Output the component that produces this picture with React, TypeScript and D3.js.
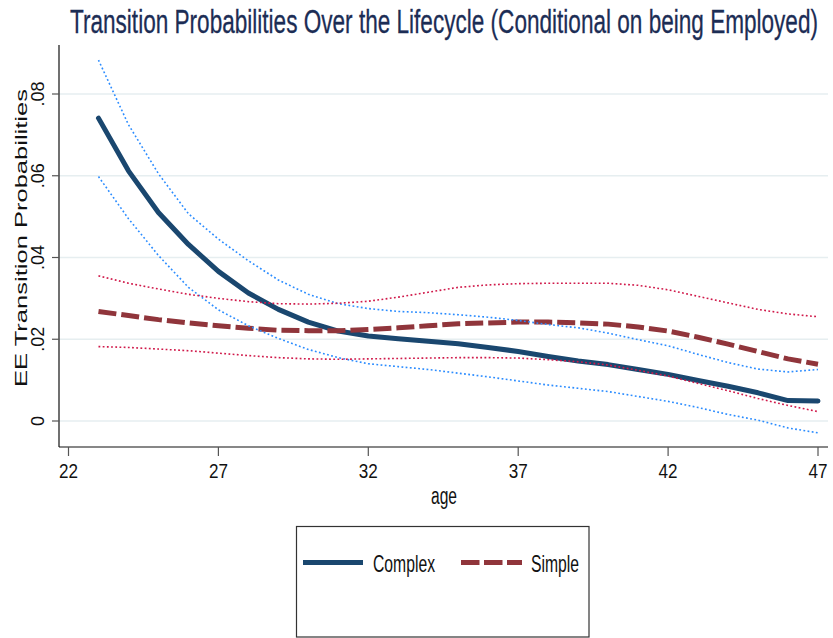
import React from "react";
import * as d3 from "d3";

// Ages on the horizontal axis
const ages = [23, 24, 25, 26, 27, 28, 29, 30, 31, 32, 33, 34, 35, 36, 37, 38, 39, 40, 41, 42, 43, 44, 45, 46, 47];

// Complex model: point estimate and confidence band
const complexEst = [0.0741, 0.0612, 0.051, 0.0432, 0.0366, 0.0313, 0.0273, 0.0242, 0.022, 0.0208, 0.0201, 0.0195, 0.0189, 0.018, 0.017, 0.0158, 0.0147, 0.0138, 0.0126, 0.0114, 0.0099, 0.0085, 0.0069, 0.005, 0.0049];
const complexHi = [0.0883, 0.0725, 0.0605, 0.0507, 0.0445, 0.0392, 0.0345, 0.031, 0.0287, 0.0275, 0.0268, 0.0265, 0.026, 0.0254, 0.0246, 0.0236, 0.0228, 0.0215, 0.0199, 0.0184, 0.0163, 0.0143, 0.0127, 0.012, 0.0126];
const complexLo = [0.0598, 0.0495, 0.0405, 0.0327, 0.0272, 0.0233, 0.0202, 0.0175, 0.0155, 0.014, 0.0133, 0.0126, 0.0117, 0.0108, 0.0098, 0.0088, 0.008, 0.0072, 0.006, 0.0048, 0.0033, 0.0016, 0.0002, -0.0017, -0.0029];

// Simple model: point estimate and confidence band
const simpleEst = [0.0268, 0.0258, 0.0248, 0.024, 0.0233, 0.0227, 0.0222, 0.0221, 0.0221, 0.0224, 0.0228, 0.0233, 0.0238, 0.024, 0.0242, 0.0242, 0.024, 0.0237, 0.023, 0.022, 0.0205, 0.0188, 0.017, 0.0152, 0.0139];
const simpleHi = [0.0355, 0.0337, 0.0323, 0.031, 0.03, 0.0292, 0.0287, 0.0286, 0.0288, 0.0293, 0.0303, 0.0315, 0.0327, 0.0333, 0.0336, 0.0337, 0.0337, 0.0337, 0.0332, 0.0321, 0.0305, 0.0289, 0.0273, 0.0262, 0.0255];
const simpleLo = [0.0182, 0.018, 0.0176, 0.0172, 0.0166, 0.016, 0.0155, 0.0152, 0.0151, 0.0152, 0.0153, 0.0154, 0.0155, 0.0155, 0.0154, 0.015, 0.0145, 0.0137, 0.0124, 0.011, 0.0092, 0.0074, 0.0055, 0.0038, 0.0023];

// Axis ticks and labels
const xTicks = [22, 27, 32, 37, 42, 47];
const yTicks = [0, 0.02, 0.04, 0.06, 0.08];
const yTickLabels = ["0", ".02", ".04", ".06", ".08"];

const seriesNames = ["Complex", "Simple"];

const W = 833;
const H = 638;

const FONT = "'Liberation Sans', Arial, sans-serif";

export default function App() {
  const x = d3.scaleLinear().domain([22, 47]).range([68.5, 818]);
  const y = d3.scaleLinear().domain([0, 0.08]).range([421, 94]);

  const plotLeft = 59;
  const plotRight = 828;
  const plotTop = 45;
  const plotBottom = 447;

  const line = (vals: number[]) =>
    d3
      .line<number>()
      .x((_, i) => x(ages[i]))
      .y((v) => y(v))
      .curve(d3.curveLinear)(vals) || "";

  const navy = "#1a476f";
  const maroon = "#90353b";
  const blueDot = "#2b8cff";
  const redDot = "#d0194a";

  return (
    <svg
      width={W}
      height={H}
      viewBox={`0 0 ${W} ${H}`}
      style={{ position: "absolute", left: 0, top: 0, background: "#fff" }}
      fontFamily={FONT}
    >
      <rect x={0} y={0} width={W} height={H} fill="#fff" />

      {/* Title */}
      <text
        x={444}
        y={33}
        textAnchor="middle"
        fontSize={33.5}
        fill="#1c2d55"
        stroke="#1c2d55"
        strokeWidth={0.3}
        textLength={748}
        lengthAdjust="spacingAndGlyphs"
      >
        Transition Probabilities Over the Lifecycle (Conditional on being Employed)
      </text>

      {/* Grid lines */}
      {yTicks.map((t) => (
        <line
          key={"g" + t}
          x1={plotLeft}
          x2={plotRight}
          y1={y(t)}
          y2={y(t)}
          stroke="#e6eef0"
          strokeWidth={1.6}
        />
      ))}

      {/* Series */}
      <path d={line(complexEst)} fill="none" stroke={navy} strokeWidth={5} strokeLinejoin="round" strokeLinecap="round" />
      <path d={line(simpleEst)} fill="none" stroke={maroon} strokeWidth={5} strokeDasharray="18 5" strokeLinejoin="round" />
      <path d={line(complexHi)} fill="none" stroke={blueDot} strokeWidth={1.6} strokeDasharray="1.8 2.4" />
      <path d={line(complexLo)} fill="none" stroke={blueDot} strokeWidth={1.6} strokeDasharray="1.8 2.4" />
      <path d={line(simpleHi)} fill="none" stroke={redDot} strokeWidth={1.6} strokeDasharray="1.8 2.4" />
      <path d={line(simpleLo)} fill="none" stroke={redDot} strokeWidth={1.6} strokeDasharray="1.8 2.4" />

      {/* Y axis */}
      <line x1={plotLeft} x2={plotLeft} y1={plotTop} y2={plotBottom} stroke="#111" strokeWidth={1.2} />
      {yTicks.map((t, i) => (
        <g key={"y" + t}>
          <line x1={plotLeft - 7} x2={plotLeft} y1={y(t)} y2={y(t)} stroke="#555" strokeWidth={1.2} />
          <text
            transform={`translate(43.5, ${y(t)}) rotate(-90)`}
            textAnchor="middle"
            fontSize={18}
            fill="#111"
          >
            {yTickLabels[i]}
          </text>
        </g>
      ))}
      <text
        transform={`translate(27, 238) rotate(-90)`}
        textAnchor="middle"
        fontSize={16.5}
        fill="#111"
        textLength={298}
        lengthAdjust="spacingAndGlyphs"
      >
        EE Transition Probabilities
      </text>

      {/* X axis */}
      <line x1={plotLeft} x2={plotRight} y1={plotBottom} y2={plotBottom} stroke="#111" strokeWidth={1.2} />
      {xTicks.map((t) => (
        <g key={"x" + t}>
          <line x1={x(t)} x2={x(t)} y1={plotBottom} y2={plotBottom + 9} stroke="#555" strokeWidth={1.2} />
          <text
            x={x(t)}
            y={478}
            textAnchor="middle"
            fontSize={21}
            fill="#111"
            textLength={19}
            lengthAdjust="spacingAndGlyphs"
          >
            {t}
          </text>
        </g>
      ))}
      <text x={444} y={504} textAnchor="middle" fontSize={23} fill="#111" textLength={26} lengthAdjust="spacingAndGlyphs">
        age
      </text>

      {/* Legend */}
      <rect x={296.5} y={526.5} width={292.5} height={110.5} fill="#fff" stroke="#333" strokeWidth={1.2} />
      <line x1={303} x2={363} y1={562.5} y2={562.5} stroke={navy} strokeWidth={5} />
      <text x={373} y={572} fontSize={24} fill="#111" textLength={62} lengthAdjust="spacingAndGlyphs">
        {seriesNames[0]}
      </text>
      <line x1={461} x2={522} y1={562.5} y2={562.5} stroke={maroon} strokeWidth={5} strokeDasharray="18.5 4.5" />
      <text x={531} y={572} fontSize={24} fill="#111" textLength={48} lengthAdjust="spacingAndGlyphs">
        {seriesNames[1]}
      </text>
    </svg>
  );
}
